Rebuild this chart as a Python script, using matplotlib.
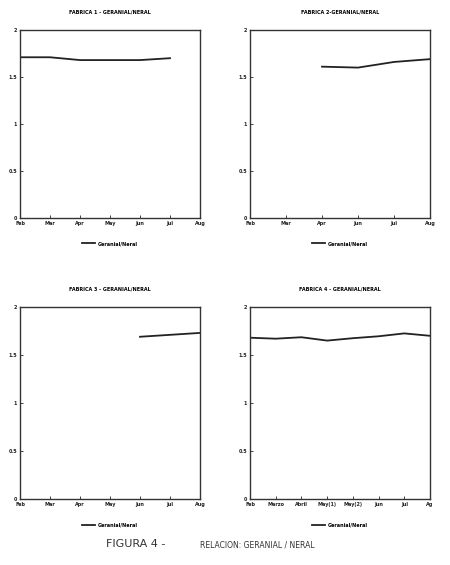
import matplotlib.pyplot as plt

# data
titles = ['FABRICA 1 - GERANIAL/NERAL', 'FABRICA 2-GERANIAL/NERAL',
          'FABRICA 3 - GERANIAL/NERAL', 'FABRICA 4 - GERANIAL/NERAL']

labels1 = ['Feb', 'Mar', 'Apr', 'May', 'Jun', 'Jul', 'Aug']
values1 = [1.71, 1.71, 1.68, 1.68, 1.68, 1.70]

labels2 = ['Feb', 'Mar', 'Apr', 'Jun', 'Jul', 'Aug']
values2 = [None, None, 1.61, 1.60, 1.66, 1.69]

labels3 = ['Feb', 'Mar', 'Apr', 'May', 'Jun', 'Jul', 'Aug']
values3 = [None, None, None, None, 1.69, 1.71, 1.73]

labels4 = ['Feb', 'Marzo', 'Abril', 'May(1)', 'May(2)', 'Jun', 'Jul', 'Ag']
values4 = [1.68, 1.67, 1.685, 1.65, 1.675, 1.695, 1.725, 1.70]

yticks = [0, 0.5, 1, 1.5, 2]
ytick_labels = ['0', '0.5', '1', '1.5', '2']

fig = plt.figure(figsize=(4.5, 5.65), dpi=100)
boxes = [(20, 30, 180, 188), (250, 30, 180, 188),
         (20, 307, 180, 192), (250, 307, 180, 192)]
W, H = 450, 565

panels = [(labels1, values1), (labels2, values2), (labels3, values3), (labels4, values4)]

for (x0, y0, w, h), title, (labs, vals) in zip(boxes, titles, panels):
    ax = fig.add_axes([x0 / W, 1 - (y0 + h) / H, w / W, h / H])
    xs = [i for i, v in enumerate(vals) if v is not None]
    ys = [v for v in vals if v is not None]
    ax.plot(xs, ys, color='#222222', lw=1.3, label='Geranial/Neral')
    ax.set_xlim(0, len(labs) - 1)
    ax.set_ylim(0, 2)
    ax.set_xticks(range(len(labs)))
    ax.set_xticklabels(labs, fontsize=3.5, fontweight='bold')
    ax.set_yticks(yticks)
    ax.set_yticklabels(ytick_labels, fontsize=3.5, fontweight='bold')
    ax.tick_params(direction='in', length=2, width=0.6, pad=2, colors='#222222')
    for s in ax.spines.values():
        s.set_linewidth(1.0)
        s.set_color('#333333')
    ax.set_title(title, fontsize=3.5, fontweight='bold', pad=12)
    ax.legend(loc='upper center', bbox_to_anchor=(0.5, -0.1), frameon=False,
              prop={'weight': 'bold', 'size': 3.5},
              handlelength=2.5, handletextpad=0.6)

fig.text(106 / W, 1 - 544 / H, 'FIGURA 4 -', fontsize=8, color='#333333',
         ha='left', va='center')
fig.text(200 / W, 1 - 545 / H, 'RELACION: GERANIAL / NERAL', fontsize=5.5,
         color='#333333', ha='left', va='center')

fig.savefig('out.png', dpi=100)
